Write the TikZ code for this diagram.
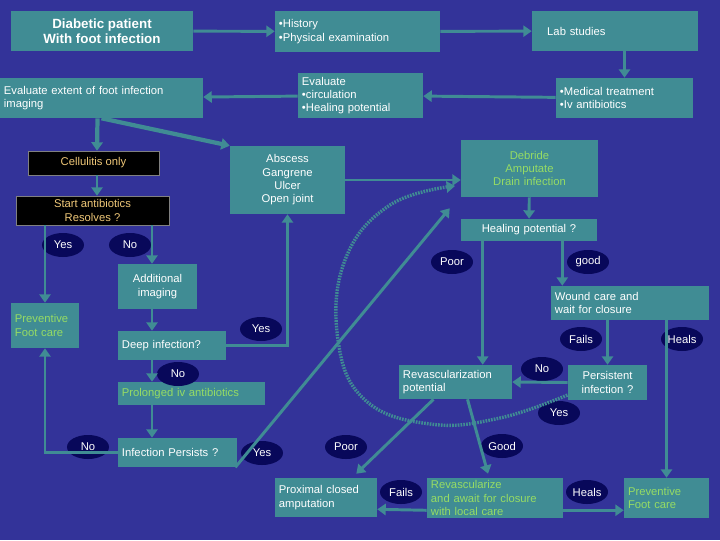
\documentclass[tikz,border=0pt]{standalone}
\usepackage{fontspec}
\setmainfont{Liberation Sans}
\usepackage{xcolor}
\usetikzlibrary{calc,arrows.meta,shapes.geometric}

\definecolor{bgc}{RGB}{51,51,153}
\definecolor{boxc}{RGB}{64,140,148}
\definecolor{ovalc}{RGB}{8,8,90}
\definecolor{greent}{RGB}{150,220,100}
\definecolor{oranget}{RGB}{240,200,120}

\begin{document}
\begin{tikzpicture}[x=0.025cm,y=-0.025cm,
    font=\fontsize{8}{9.5}\selectfont,
    box/.style={fill=boxc,text=white,inner xsep=0.1cm,inner ysep=0pt,align=left},
    cbox/.style={box,align=center},
    blk/.style={fill=black,draw=gray,text=oranget,inner sep=0pt,align=center},
    oval/.style={ellipse,fill=ovalc,text=white,minimum width=1.05cm,minimum height=0.6cm,inner sep=0pt},
    arr/.style={draw=boxc,line width=2.1pt,-{Triangle[width=8pt,length=6pt]}}]

    % Background
    \fill[bgc] (0,0) rectangle (720,540);
    \useasboundingbox (0,0) rectangle (720,540);

    % Top row
    \node[cbox,minimum width=4.55cm,minimum height=1cm,font=\fontsize{9.5}{11}\selectfont\bfseries] (diab) at (102,31) {Diabetic patient\\With foot infection};
    \node[box,text width=3.925cm,minimum height=1.025cm] (hist) at (357.5,31.5) {\textbullet History\\\textbullet Physical examination};
    \node[box,text width=3.95cm,minimum height=1cm] (lab) at (615,31) {\quad Lab studies};

    % Second row
    \node[box,text width=4.875cm,minimum height=1cm] (evext) at (101.5,98) {Evaluate extent of foot infection\\imaging};
    \node[box,text width=2.925cm,minimum height=1.125cm] (evcirc) at (360.5,95.5) {Evaluate\\\textbullet circulation\\\textbullet Healing potential};
    \node[box,text width=3.225cm,minimum height=1cm] (med) at (624.5,98) {\textbullet Medical treatment\\\textbullet Iv antibiotics};

    % Left branch
    \node[blk,minimum width=3.275cm,minimum height=0.6cm] (cell) at (93.5,163) {Cellulitis only};
    \node[blk,minimum width=3.825cm,minimum height=0.725cm] (start) at (92.5,210.5) {Start antibiotics\\Resolves ?};
    \node[cbox,text width=1.775cm,minimum height=1.125cm] (addl) at (157.5,286.5) {Additional\\imaging};
    \node[box,text=greent,text width=1.5cm,minimum height=1.125cm] (prev1) at (45,325.5) {Preventive\\Foot care};
    \node[box,text width=2.5cm,minimum height=0.725cm] (deep) at (172,345.5) {Deep infection?};
    \node[box,text=greent,text width=3.475cm,minimum height=0.575cm] (prol) at (191.5,393.5) {Prolonged iv antibiotics};
    \node[box,text width=2.775cm,minimum height=0.725cm] (infp) at (177.5,452.5) {Infection Persists ?};

    % Middle and right branch
    \node[cbox,text width=2.675cm,minimum height=1.7cm] (absc) at (287.5,180) {Abscess\\Gangrene\\Ulcer\\Open joint};
    \node[cbox,text=greent,text width=3.225cm,minimum height=1.425cm] (debr) at (529.5,168.5) {Debride\\Amputate\\Drain infection};
    \node[cbox,text width=3.2cm,minimum height=0.55cm] (heal) at (529,230) {Healing potential ?};
    \node[box,text width=3.75cm,minimum height=0.85cm] (wound) at (630,303) {Wound care and\\wait for closure};
    \node[cbox,text width=1.775cm,minimum height=0.875cm] (pers) at (607.5,382.5) {Persistent\\infection ?};
    \node[box,text width=2.625cm,minimum height=0.85cm] (revp) at (455.5,382) {Revascularization\\potential};

    % Bottom row
    \node[box,text width=2.35cm,minimum height=0.975cm] (prox) at (326,497.5) {Proximal closed\\amputation};
    \node[box,text=greent,text width=3.2cm,minimum height=1cm] (rvz) at (495,498) {Revascularize\\and await for closure\\with local care};
    \node[box,text=greent,text width=1.925cm,minimum height=1cm] (prev2) at (666.5,498) {Preventive\\Foot care};

    % Answers
    \foreach \nm/\x/\y/\txt in {y1/63/245/Yes, n1/130/245/No, po1/452/262/Poor, go1/588/262/good,
        y2/261/329/Yes, n2/178/374/No, n3/88/447/No, y3/262/453/Yes,
        po2/346/447/Poor, go2/502/446/Good, f1/581/339/Fails, h1/682/339/Heals,
        n4/542/369/No, y4/559/413/Yes, f2/401/492/Fails, h2/587/492/Heals}
        \node[oval] (l\nm) at (\x,\y) {\txt};

    % Top connectors
    \draw[arr] (diab) -- (hist);
    \draw[arr] (hist) -- (lab);
    \draw[arr] (lab.south -| med.north) -- (med.north);
    \draw[arr] (med) -- (evcirc);
    \draw[arr] (evcirc) -- (evext);
    \draw[arr,line width=3pt] ($(evext.south)+(-4,0)$) -- (cell.north -| 97,0);
    \draw[arr,line width=3pt] ($(evext.south)+(0,0)$) -- (absc.north west);

    % Left connectors
    \draw[arr] (cell.south -| 97,0) -- (start.north -| 97,0);
    \draw[arr] (start.south -| prev1.north) -- (prev1.north);
    \draw[arr] (start.south -| 152,0) -- (addl.north -| 152,0);
    \draw[arr] (addl.south -| 152,0) -- (deep.north -| 152,0);
    \draw[arr] (deep.east) -| (absc.south);
    \draw[arr] (deep.south -| 152,0) -- (prol.north -| 152,0);
    \draw[arr] (prol.south -| 152,0) -- (infp.north -| 152,0);
    \draw[arr] (infp.west) -| (prev1.south);
    \coordinate (tip) at ($(debr.south west)+(-11,11)$);
    \draw[arr] ($(infp.south east)+(-2,0)$) -- (tip);

    % Right connectors
    \draw[arr] (absc) -- (debr.west |- absc);
    \draw[arr] (debr) -- (heal);
    \coordinate (hl) at ($(heal.south west)+(22,0)$);
    \coordinate (hr) at ($(heal.south east)+(-35,0)$);
    \draw[arr] (hl) -- (hl |- revp.north);
    \draw[arr] (hr) -- (hr |- wound.north);
    \draw[arr] (wound.south -| pers.north) -- (pers.north);
    \draw[arr] (wound.south -| prev2.north) -- (prev2.north);
    \draw[arr] (pers.west) -- (revp.east);
    \draw[arr] ($(revp.south)+(-22,0)$) -- ($(prox.north east)+(-21,-4)$);
    \draw[arr] ($(revp.south)+(12,0)$) -- ($(rvz.north)+(-7,-4)$);
    \draw[arr] ($(rvz.south west)+(0,-8)$) -- ($(prox.south east)+(0,-8)$);
    \draw[arr] ($(rvz.south east)+(0,-8)$) -- ($(prev2.south west)+(0,-8)$);

    % Dotted return loop
    \draw[draw=boxc,line width=2.4pt,dash pattern=on 1.2pt off 0.8pt,-{Triangle[width=8pt,length=6pt]}]
        plot[smooth,tension=0.7] coordinates {(570,394) (500,418) (430,424) (365,400) (338,340) (345,260) (390,205) (455,186)};
\end{tikzpicture}
\end{document}
